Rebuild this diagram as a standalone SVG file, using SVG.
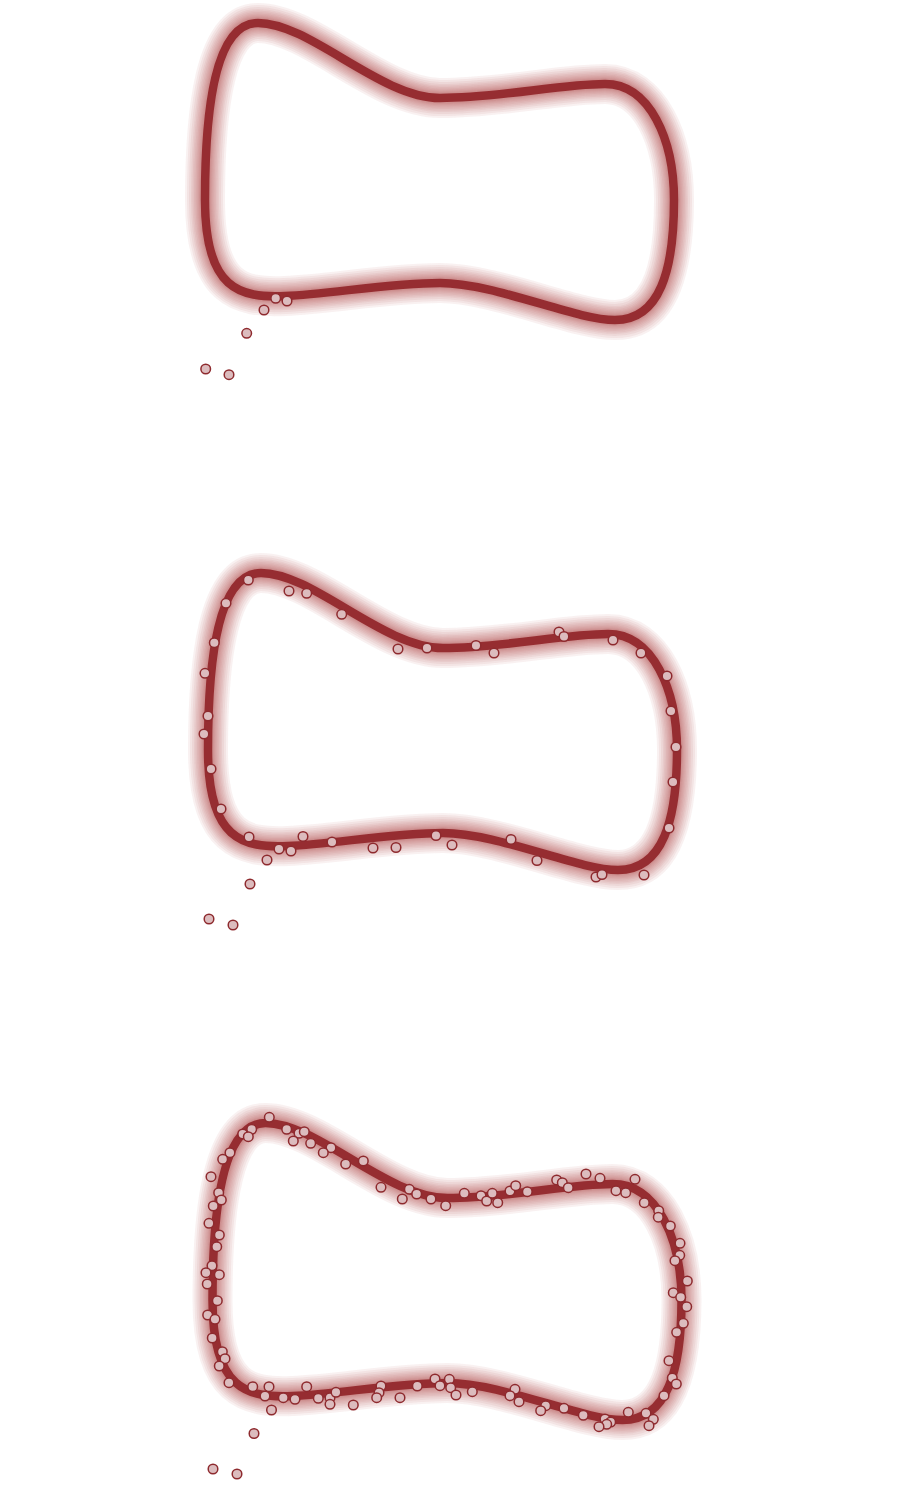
<svg xmlns="http://www.w3.org/2000/svg" xmlns:xlink="http://www.w3.org/1999/xlink" width="903" height="1500" viewBox="0 0 903 1500">
<style>
.g{fill:none;stroke:#a3353a;stroke-linejoin:round;stroke-opacity:0.07}
.core{fill:none;stroke:#962d31;stroke-width:8.5}
.d circle{fill:#dcbcbe;stroke:#8e2a2e;stroke-width:1.5}
</style>
<defs>
<path id="blob" d="M258,23 C310,23 380,98 440,98 C500,98 560,84 605,84 C650,84 674,140 674,200 C674,270 660,320 615,320 C575,320 495,283 440,283 C390,283 330,294 285,296 C240,298 205,290 205,200 C205,110 215,23 258,23 Z"/>
<g id="glow">
<use xlink:href="#blob" class="g" stroke-width="40"/>
<use xlink:href="#blob" class="g" stroke-width="36"/>
<use xlink:href="#blob" class="g" stroke-width="32"/>
<use xlink:href="#blob" class="g" stroke-width="28"/>
<use xlink:href="#blob" class="g" stroke-width="25"/>
<use xlink:href="#blob" class="g" stroke-width="22"/>
<use xlink:href="#blob" class="g" stroke-width="19"/>
<use xlink:href="#blob" class="g" stroke-width="16.5"/>
<use xlink:href="#blob" class="g" stroke-width="14"/>
<use xlink:href="#blob" class="g" stroke-width="12"/>
<use xlink:href="#blob" class="g" stroke-width="10.5"/>
<use xlink:href="#blob" class="core"/>
</g>
</defs>
<g id="outline1"><use xlink:href="#glow"/></g>
<g id="outline2" transform="translate(3,550)"><use xlink:href="#glow"/></g>
<g id="outline3" transform="translate(7.5,1100)"><use xlink:href="#glow"/></g>
<g id="dots1" class="d">
<circle cx="275.7" cy="298.3" r="4.8"/><circle cx="287" cy="301" r="4.8"/><circle cx="264" cy="310" r="4.8"/><circle cx="246.7" cy="333.3" r="4.8"/><circle cx="205.7" cy="369" r="4.8"/><circle cx="229" cy="374.7" r="4.8"/>
</g>
<g id="dots2" class="d">
<circle cx="248.3" cy="580" r="4.8"/><circle cx="289" cy="591" r="4.8"/><circle cx="306.7" cy="593.3" r="4.8"/><circle cx="226" cy="603.3" r="4.8"/><circle cx="341.7" cy="614.3" r="4.8"/><circle cx="214.3" cy="642.7" r="4.8"/><circle cx="398" cy="649" r="4.8"/><circle cx="427" cy="648" r="4.8"/><circle cx="476" cy="645.5" r="4.8"/><circle cx="494" cy="653" r="4.8"/><circle cx="559" cy="632" r="4.8"/><circle cx="564" cy="636.5" r="4.8"/><circle cx="613" cy="640" r="4.8"/><circle cx="641" cy="653" r="4.8"/><circle cx="205" cy="673.3" r="4.8"/><circle cx="667" cy="676" r="4.8"/><circle cx="671" cy="711" r="4.8"/><circle cx="208" cy="716" r="4.8"/><circle cx="204" cy="734" r="4.8"/><circle cx="676" cy="747" r="4.8"/><circle cx="211" cy="769" r="4.8"/><circle cx="673" cy="782" r="4.8"/><circle cx="221" cy="809" r="4.8"/><circle cx="669" cy="828" r="4.8"/><circle cx="249" cy="837" r="4.8"/><circle cx="303" cy="836.5" r="4.8"/><circle cx="279" cy="849" r="4.8"/><circle cx="291" cy="851" r="4.8"/><circle cx="332" cy="842" r="4.8"/><circle cx="373" cy="848" r="4.8"/><circle cx="396" cy="847.5" r="4.8"/><circle cx="436" cy="835.5" r="4.8"/><circle cx="452" cy="845" r="4.8"/><circle cx="511" cy="839.5" r="4.8"/><circle cx="537" cy="860.5" r="4.8"/><circle cx="267" cy="860" r="4.8"/><circle cx="596" cy="877" r="4.8"/><circle cx="602" cy="874.5" r="4.8"/><circle cx="644" cy="875" r="4.8"/><circle cx="250" cy="884" r="4.8"/><circle cx="209" cy="919" r="4.8"/><circle cx="233" cy="925" r="4.8"/>
</g>
<g id="dots3" class="d">
<circle cx="269.3" cy="1117.3" r="4.8"/><circle cx="251.7" cy="1129.3" r="4.8"/><circle cx="242.7" cy="1134" r="4.8"/><circle cx="248.3" cy="1136.7" r="4.8"/><circle cx="286.7" cy="1129.3" r="4.8"/><circle cx="299" cy="1133.3" r="4.8"/><circle cx="304.3" cy="1131.7" r="4.8"/><circle cx="293.3" cy="1141" r="4.8"/><circle cx="310.7" cy="1143.3" r="4.8"/><circle cx="331" cy="1147.7" r="4.8"/><circle cx="323.3" cy="1152.7" r="4.8"/><circle cx="345.7" cy="1164" r="4.8"/><circle cx="363.3" cy="1161" r="4.8"/><circle cx="230" cy="1152.7" r="4.8"/><circle cx="222.7" cy="1159.3" r="4.8"/><circle cx="211" cy="1176.7" r="4.8"/><circle cx="218.7" cy="1192.7" r="4.8"/><circle cx="221.3" cy="1200" r="4.8"/><circle cx="213.3" cy="1206" r="4.8"/><circle cx="209" cy="1223.3" r="4.8"/><circle cx="219.3" cy="1235" r="4.8"/><circle cx="216.7" cy="1246.7" r="4.8"/><circle cx="212" cy="1265.7" r="4.8"/><circle cx="206" cy="1272.7" r="4.8"/><circle cx="219.3" cy="1274.7" r="4.8"/><circle cx="207.3" cy="1284" r="4.8"/><circle cx="217.3" cy="1300.7" r="4.8"/><circle cx="207.7" cy="1315" r="4.8"/><circle cx="215" cy="1319.3" r="4.8"/><circle cx="212.3" cy="1338" r="4.8"/><circle cx="222.3" cy="1351.7" r="4.8"/><circle cx="225" cy="1358.7" r="4.8"/><circle cx="219.3" cy="1366" r="4.8"/><circle cx="229" cy="1382.7" r="4.8"/><circle cx="252.7" cy="1386.7" r="4.8"/><circle cx="269" cy="1386.7" r="4.8"/><circle cx="265" cy="1396" r="4.8"/><circle cx="283.3" cy="1397.7" r="4.8"/><circle cx="295" cy="1399.3" r="4.8"/>
<circle cx="381" cy="1187.3" r="4.8"/><circle cx="402.3" cy="1199" r="4.8"/><circle cx="409.3" cy="1189.3" r="4.8"/><circle cx="416.7" cy="1194" r="4.8"/><circle cx="431" cy="1199" r="4.8"/><circle cx="445.7" cy="1205.7" r="4.8"/><circle cx="464.3" cy="1193.3" r="4.8"/><circle cx="481" cy="1195.7" r="4.8"/><circle cx="486.7" cy="1201" r="4.8"/><circle cx="492.3" cy="1193.3" r="4.8"/><circle cx="497.7" cy="1202.7" r="4.8"/><circle cx="510" cy="1191" r="4.8"/><circle cx="515.7" cy="1185.7" r="4.8"/><circle cx="527.3" cy="1191.7" r="4.8"/><circle cx="556.7" cy="1180" r="4.8"/><circle cx="562.3" cy="1182.7" r="4.8"/><circle cx="568.3" cy="1187.7" r="4.8"/><circle cx="586" cy="1174" r="4.8"/><circle cx="600" cy="1178.3" r="4.8"/><circle cx="616" cy="1190.7" r="4.8"/><circle cx="625.7" cy="1192.7" r="4.8"/><circle cx="635" cy="1179.3" r="4.8"/><circle cx="644.3" cy="1202.7" r="4.8"/><circle cx="658.7" cy="1210.7" r="4.8"/><circle cx="658.3" cy="1217.2" r="4.8"/>
<circle cx="670.3" cy="1226" r="4.8"/><circle cx="680" cy="1243.3" r="4.8"/><circle cx="679.7" cy="1255.3" r="4.8"/><circle cx="675" cy="1260.7" r="4.8"/><circle cx="687.3" cy="1281" r="4.8"/><circle cx="673.3" cy="1292.7" r="4.8"/><circle cx="680.7" cy="1297.3" r="4.8"/><circle cx="686.7" cy="1306.7" r="4.8"/><circle cx="683.3" cy="1323.3" r="4.8"/><circle cx="676.7" cy="1332.3" r="4.8"/><circle cx="669" cy="1360.7" r="4.8"/><circle cx="672.3" cy="1378" r="4.8"/><circle cx="676.3" cy="1384" r="4.8"/><circle cx="664" cy="1395.7" r="4.8"/><circle cx="628.3" cy="1412.3" r="4.8"/><circle cx="646" cy="1413.3" r="4.8"/><circle cx="653.3" cy="1419.3" r="4.8"/><circle cx="649" cy="1425.7" r="4.8"/><circle cx="583.3" cy="1415.3" r="4.8"/><circle cx="605" cy="1419" r="4.8"/><circle cx="610.7" cy="1422" r="4.8"/><circle cx="606.7" cy="1424.3" r="4.8"/><circle cx="599" cy="1426.7" r="4.8"/>
<circle cx="306.7" cy="1386.7" r="4.8"/><circle cx="318.3" cy="1398.3" r="4.8"/><circle cx="330" cy="1397.7" r="4.8"/><circle cx="330" cy="1404.3" r="4.8"/><circle cx="336" cy="1392.3" r="4.8"/><circle cx="353.3" cy="1405" r="4.8"/><circle cx="381" cy="1386" r="4.8"/><circle cx="379" cy="1392.7" r="4.8"/><circle cx="376.7" cy="1397.7" r="4.8"/><circle cx="400" cy="1397.7" r="4.8"/><circle cx="417.3" cy="1386" r="4.8"/><circle cx="435" cy="1379" r="4.8"/><circle cx="440" cy="1385.7" r="4.8"/><circle cx="449.3" cy="1379.3" r="4.8"/><circle cx="450.7" cy="1387.7" r="4.8"/><circle cx="456" cy="1395" r="4.8"/><circle cx="472.3" cy="1391.7" r="4.8"/><circle cx="515" cy="1389.3" r="4.8"/><circle cx="510" cy="1395.7" r="4.8"/><circle cx="519" cy="1401.7" r="4.8"/><circle cx="545.7" cy="1405.7" r="4.8"/><circle cx="540.7" cy="1410.7" r="4.8"/><circle cx="564" cy="1408.3" r="4.8"/>
<circle cx="271.5" cy="1410" r="4.8"/><circle cx="254" cy="1433.5" r="4.8"/><circle cx="213" cy="1469" r="4.8"/><circle cx="237" cy="1474" r="4.8"/>
</g>
</svg>
